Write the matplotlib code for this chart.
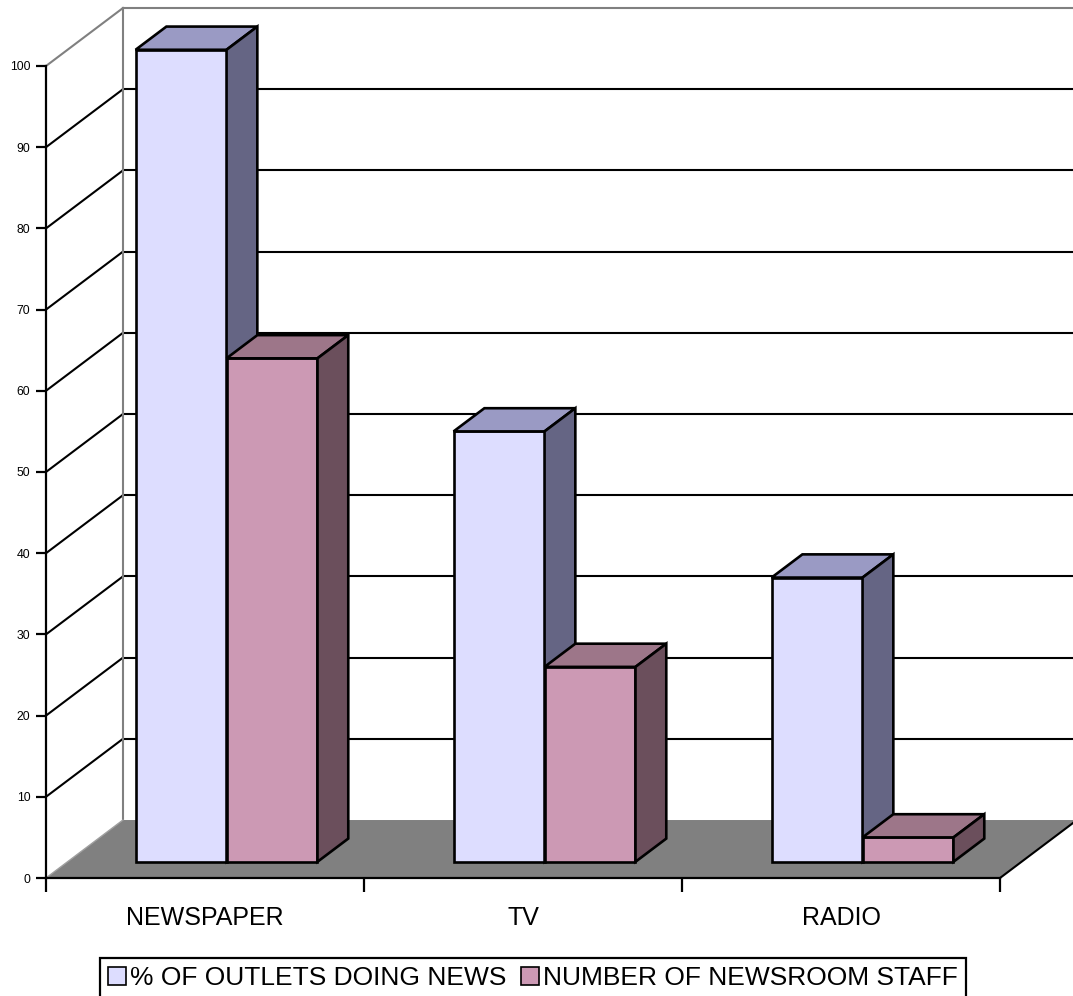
import matplotlib
matplotlib.use("Agg")
import matplotlib.pyplot as plt
from matplotlib.patches import Polygon, Patch

# ----------------------------- data ------------------------------------------
categories = ["NEWSPAPER", "TV", "RADIO"]
outlets_pct = [100, 53, 35]
newsroom_staff = [62, 24, 3]
series_labels = ["% OF OUTLETS DOING NEWS", "NUMBER OF NEWSROOM STAFF"]
y_ticks = list(range(0, 101, 10))

# ----------------------------- style -----------------------------------------
plt.rcParams["font.family"] = ["Liberation Sans", "DejaVu Sans"]

DX, DY = 0.242, 7.14          # full depth of the floor, in (category, value) units
F0, F1 = 0.28, 0.68           # front/back of bars as fraction of depth
BAR_W = 0.286
FACE = [("#DDDDFF", "#9A9AC4", "#656584"),   # front, top, side
        ("#CC99B4", "#9D7689", "#6B4F5C")]
EDGE_LW = 1.9
GRID_LW = 1.5


def draw_box(ax, x0, h, colors):
    fx, fy = x0 + F0 * DX, F0 * DY
    ddx, ddy = (F1 - F0) * DX, (F1 - F0) * DY
    front = [(fx, fy), (fx + BAR_W, fy), (fx + BAR_W, fy + h), (fx, fy + h)]
    top = [(fx, fy + h), (fx + BAR_W, fy + h),
           (fx + BAR_W + ddx, fy + h + ddy), (fx + ddx, fy + h + ddy)]
    side = [(fx + BAR_W, fy), (fx + BAR_W + ddx, fy + ddy),
            (fx + BAR_W + ddx, fy + h + ddy), (fx + BAR_W, fy + h)]
    for pts, c in zip([front, top, side], colors):
        ax.add_patch(Polygon(pts, closed=True, facecolor=c, edgecolor="black",
                             lw=EDGE_LW, joinstyle="miter", clip_on=False, zorder=5))


fig = plt.figure(figsize=(10.73, 9.96), dpi=100)
ax = fig.add_axes([46 / 1073, 118 / 996, 954 / 1073, 812 / 996])
ax.set_xlim(0, len(categories))
ax.set_ylim(0, 100)
ax.patch.set_visible(False)

n = len(categories)

# walls: grid lines on back wall and diagonals on left wall
for v in y_ticks[1:-1]:
    ax.plot([DX, n + DX], [v + DY, v + DY], color="black", lw=GRID_LW, clip_on=False, zorder=1)
    ax.plot([0, DX], [v, v + DY], color="black", lw=GRID_LW, clip_on=False, zorder=1)
ax.plot([0, DX], [100, 100 + DY], color="#808080", lw=GRID_LW, clip_on=False, zorder=1)
ax.plot([DX, n + DX], [100 + DY, 100 + DY], color="#808080", lw=GRID_LW, clip_on=False, zorder=1)
ax.plot([DX, DX], [DY, 100 + DY], color="#808080", lw=GRID_LW, clip_on=False, zorder=1)

# floor
ax.add_patch(Polygon([(0, 0), (DX, DY), (n + DX, DY), (n, 0)], closed=True,
                     facecolor="#808080", edgecolor="none", clip_on=False, zorder=2))
ax.plot([0, DX], [0, DY], color="#a0a0a0", lw=1.0, clip_on=False, zorder=2)
ax.plot([n, n + DX], [0, DY], color="black", lw=GRID_LW, clip_on=False, zorder=2)

# bars
for i in range(n):
    left = i + 0.5 - BAR_W
    draw_box(ax, left, outlets_pct[i], FACE[0])
    draw_box(ax, left + BAR_W, newsroom_staff[i], FACE[1])

# axes
for s in ["top", "right"]:
    ax.spines[s].set_visible(False)
for s in ["left", "bottom"]:
    ax.spines[s].set_linewidth(1.6)
    ax.spines[s].set_zorder(6)
ax.spines["left"].set_bounds(0, 100)

ax.set_yticks(y_ticks)
ax.set_yticklabels([str(v) for v in y_ticks], fontsize=8.8)
ax.tick_params(axis="y", direction="out", length=7.2, width=1.6, pad=4)

ax.set_xticks(range(n + 1))
ax.set_xticklabels([])
ax.tick_params(axis="x", which="major", direction="out", length=10, width=1.6)
ax.set_xticks([i + 0.5 for i in range(n)], minor=True)
ax.set_xticklabels(categories, minor=True, fontsize=18)
ax.tick_params(axis="x", which="minor", length=0, pad=20)

# legend
handles = [Patch(facecolor=FACE[k][0], edgecolor="black", lw=1.2) for k in range(2)]
leg = fig.legend(handles, series_labels, loc="upper center",
                 bbox_to_anchor=(533 / 1073, 1 - 958 / 996), borderaxespad=0,
                 ncol=2, fontsize=19, frameon=True, fancybox=False, edgecolor="black",
                 framealpha=1, handlelength=0.68, handleheight=0.68, handletextpad=0.15,
                 columnspacing=0.55, borderpad=0.3)
leg.get_frame().set_linewidth(1.6)

fig.savefig("out.png", dpi=100)
